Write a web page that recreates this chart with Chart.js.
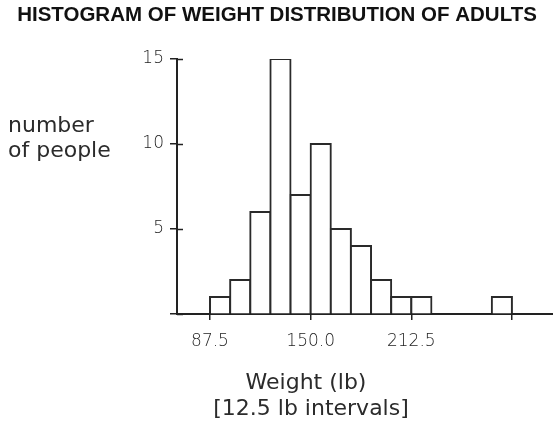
<!DOCTYPE html>
<html>
<head>
<meta charset="utf-8">
<script src="https://cdn.jsdelivr.net/npm/chart.js@4"></script>
<style>
  html, body { margin: 0; padding: 0; background: #fff; }
  #wrap { width: 553px; height: 427px; position: relative; }
</style>
</head>
<body>
<div id="wrap"><canvas id="histChart"></canvas></div>
<script>
// Histogram bins (bin start, lb) and counts, 12.5 lb intervals
var binStarts = [87.5, 100, 112.5, 125, 137.5, 150, 162.5, 175, 187.5, 200, 212.5, 225, 237.5, 250, 262.5];
var counts    = [1, 2, 6, 15, 7, 10, 5, 4, 2, 1, 1, 0, 0, 0, 1];
var binWidth = 12.5;

// Tick positions
var xTicks = [87.5, 150, 212.5, 275];
var xTickLabels = ["87.5", "150.0", "212.5", ""];
var yTicks = [0, 5, 10, 15];
var yTickLabels = ["", "5", "10", "15"];

var chartTitle = "HISTOGRAM OF WEIGHT DISTRIBUTION OF ADULTS";
var yTitleLines = ["number", "of people"];
var xTitleLines = ["Weight (lb)", "[12.5 lb intervals]"];

var axisColor = "#222";
var tickFont = { family: "DejaVu Sans", size: 17, weight: 200 };

// build bar points at bin centres
var barPoints = binStarts.map(function (s, i) {
  return { x: s + binWidth / 2, y: counts[i] };
});

// draws the titles and the inner half of the y ticks
var textPlugin = {
  id: 'textPlugin',
  afterDraw: function (chart) {
    var ctx = chart.ctx;
    var yScale = chart.scales.y;
    var left = chart.chartArea.left;
    ctx.save();
    ctx.strokeStyle = axisColor;
    ctx.lineWidth = 1.5;
    yTicks.forEach(function (v) {
      var py = Math.round(yScale.getPixelForValue(v)) + 0.5;
      ctx.beginPath();
      ctx.moveTo(left, py);
      ctx.lineTo(left + 6, py);
      ctx.stroke();
    });

    ctx.fillStyle = "#111";
    ctx.font = "bold 20.5px 'Liberation Sans', Arial, sans-serif";
    ctx.textAlign = "center";
    ctx.textBaseline = "middle";
    ctx.fillText(chartTitle, 277, 15);

    ctx.fillStyle = "#2b2b2b";
    ctx.font = "22px 'DejaVu Sans', sans-serif";
    ctx.textAlign = "left";
    ctx.fillText(yTitleLines[0], 8, 126);
    ctx.fillText(yTitleLines[1], 8, 151);

    ctx.textAlign = "center";
    ctx.fillText(xTitleLines[0], 306, 383);
    ctx.fillText(xTitleLines[1], 311, 409);
    ctx.restore();
  }
};

var histChart = new Chart(document.getElementById('histChart'), {
  type: 'bar',
  data: {
    datasets: [{
      data: barPoints,
      backgroundColor: "#fff",
      borderColor: "#2a2a2a",
      borderWidth: 2,
      borderSkipped: 'start',
      inflateAmount: 1,
      barPercentage: 1,
      categoryPercentage: 1
    }]
  },
  options: {
    responsive: true,
    maintainAspectRatio: false,
    animation: false,
    layout: { padding: { top: 59, right: 0, bottom: 0, left: 0 } },
    plugins: {
      legend: { display: false },
      tooltip: { enabled: false }
    },
    scales: {
      x: {
        type: 'linear',
        offset: false,
        min: 67,
        max: 300.5,
        afterFit: function (scale) { scale.height = 113; },
        afterBuildTicks: function (scale) {
          scale.ticks = xTicks.map(function (v) { return { value: v }; });
        },
        ticks: {
          autoSkip: false,
          maxRotation: 0,
          color: "#222",
          font: tickFont,
          padding: 11,
          callback: function (value) {
            return xTickLabels[xTicks.indexOf(value)];
          }
        },
        grid: { offset: false, drawOnChartArea: false, color: axisColor, lineWidth: 1.5, tickLength: 6 },
        border: { display: true, color: axisColor, width: 2 }
      },
      y: {
        min: 0,
        max: 15,
        afterFit: function (scale) { scale.width = 177; },
        afterBuildTicks: function (scale) {
          scale.ticks = yTicks.map(function (v) { return { value: v }; });
        },
        ticks: {
          color: "#222",
          font: tickFont,
          padding: 6,
          callback: function (value) {
            return yTickLabels[yTicks.indexOf(value)];
          }
        },
        grid: { drawOnChartArea: false, color: axisColor, lineWidth: 1.5, tickLength: 7 },
        border: { display: true, color: axisColor, width: 2 }
      }
    }
  },
  plugins: [textPlugin]
});
</script>
</body>
</html>
